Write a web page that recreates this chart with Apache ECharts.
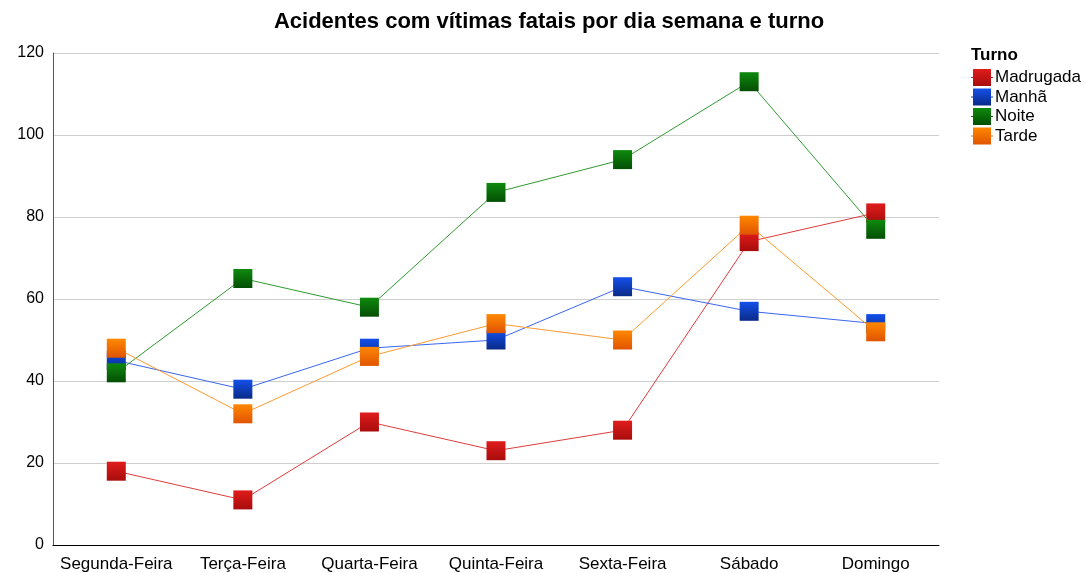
<!DOCTYPE html>
<html><head><meta charset="utf-8">
<script src="https://cdn.jsdelivr.net/npm/echarts@6/dist/echarts.min.js"></script>
<style>html,body{margin:0;padding:0;background:#fff}#c{width:1085px;height:573px}</style>
</head><body><div id="c"></div>
<script>
const categories = ['Segunda-Feira','Terça-Feira','Quarta-Feira','Quinta-Feira','Sexta-Feira','Sábado','Domingo'];
const madrugada = [18, 11, 30, 23, 28, 74, 81];
const manha = [45, 38, 48, 50, 63, 57, 54];
const noite = [42, 65, 58, 86, 94, 113, 77];
const tarde = [48, 32, 46, 54, 50, 78, 52];
const seriesNames = ['Madrugada','Manhã','Noite','Tarde'];

const FONT = 'Liberation Sans, Arial, sans-serif';
function grad(a,b){return new echarts.graphic.LinearGradient(0,0,0,1,[{offset:0,color:a},{offset:1,color:b}]);}
const styles = [
  {line:'#e03c3c', top:'#e01c1c', bot:'#a80c0c', z:2},
  {line:'#3a66ee', top:'#1450ea', bot:'#0a2a88', z:3},
  {line:'#2f9a2f', top:'#0e8a0e', bot:'#044e04', z:4},
  {line:'#ff9a30', top:'#ff8800', bot:'#e05400', z:5}
];
const datas = [madrugada, manha, noite, tarde];
const chart = echarts.init(document.getElementById('c'));
chart.setOption({
  animation:false,
  backgroundColor:'#fff',
  title:[{text:'Acidentes com vítimas fatais por dia semana e turno', left:544, top:6, textAlign:'center',
    textStyle:{fontFamily:FONT, fontSize:22, fontWeight:'bold', color:'#000'}},
    {text:'Turno', left:966, top:42, textStyle:{fontFamily:FONT, fontSize:17, fontWeight:'bold', color:'#000'}}],
  legend:{orient:'vertical', left:966, top:64, itemGap:2.5, itemWidth:22, itemHeight:17,
    icon:'path://M0,8H22V9H0Z M2,0H20V17H2Z',
    data:seriesNames, textStyle:{fontFamily:FONT, fontSize:17, color:'#000', padding:[0,0,0,-3]}},
  grid:{left:53, right:146, top:53, bottom:28},
  xAxis:{type:'category', data:categories, boundaryGap:true,
    axisLine:{lineStyle:{color:'#000', width:1}}, axisTick:{show:false},
    axisLabel:{fontFamily:FONT, fontSize:17, color:'#000', margin:11, interval:0}},
  yAxis:{type:'value', min:0, max:120, interval:20,
    axisLine:{show:true, lineStyle:{color:'#555', width:1}}, axisTick:{show:false},
    splitLine:{lineStyle:{color:'#cfcfcf', width:1}},
    axisLabel:{fontFamily:FONT, fontSize:16, color:'#000', margin:9}},
  series: seriesNames.map((n,i)=>({
    name:n, type:'line', data:datas[i], z:styles[i].z,
    symbol:'rect', symbolSize:19,
    lineStyle:{color:styles[i].line, width:1},
    itemStyle:{color:grad(styles[i].top, styles[i].bot), borderWidth:0},
    emphasis:{disabled:true}
  }))
});
</script></body></html>
